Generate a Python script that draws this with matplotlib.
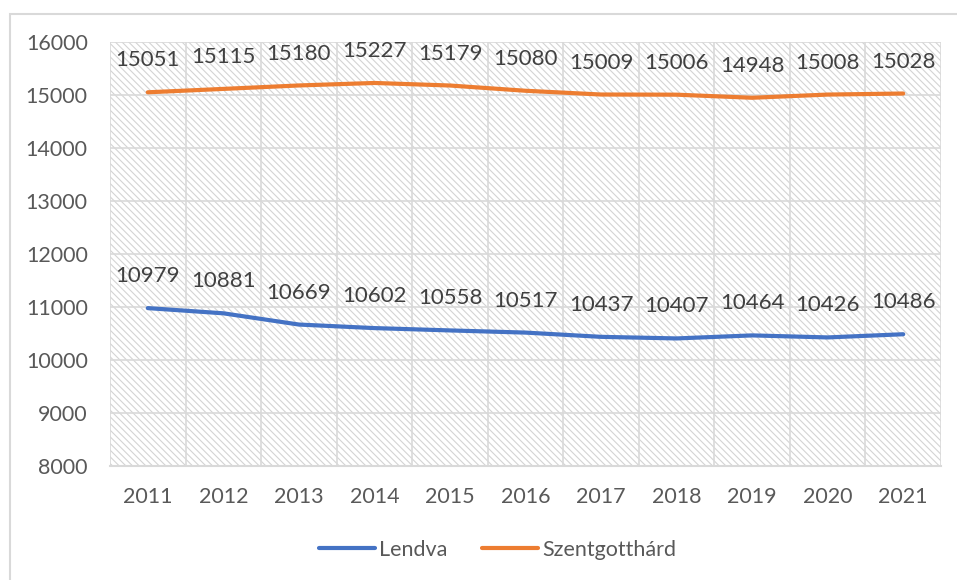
"""Population of Lendva and Szentgotthárd, 2011-2021."""

import matplotlib

matplotlib.use("Agg")
import matplotlib.pyplot as plt
from matplotlib import patches

years = ["2011", "2012", "2013", "2014", "2015", "2016",
         "2017", "2018", "2019", "2020", "2021"]
lendva = [10979, 10881, 10669, 10602, 10558, 10517,
          10437, 10407, 10464, 10426, 10486]
szentgotthard = [15051, 15115, 15180, 15227, 15179, 15080,
                 15009, 15006, 14948, 15008, 15028]

BLUE = "#4472C4"
ORANGE = "#ED7D31"
GRID = "#d9d9d9"
TEXT = "#595959"
LABEL = "#404040"
FS = 15.5

plt.rcParams["font.family"] = ["Lato", "DejaVu Sans"]
plt.rcParams["hatch.color"] = "#d4d4d4"
plt.rcParams["hatch.linewidth"] = 0.8

W, H = 957, 580
fig = plt.figure(figsize=(W / 100, H / 100), dpi=100)

# outer chart border (runs off the right and bottom edges)
fig.add_artist(patches.Rectangle(
    (10 / W, -0.1), 1, 1.1 - 14 / H, transform=fig.transFigure,
    fill=False, edgecolor=GRID, linewidth=1.5))

ax = fig.add_axes([110 / W, (H - 466) / H, 831 / W, 424 / H])
x = list(range(len(years)))

# hatched plot area
ax.add_patch(patches.Rectangle(
    (0, 0), 1, 1, transform=ax.transAxes, facecolor="white",
    hatch="\\\\\\\\\\", edgecolor="#d4d4d4", linewidth=0, zorder=0))

ax.plot(x, lendva, color=BLUE, linewidth=3, label="Lendva",
        solid_capstyle="round", zorder=3)
ax.plot(x, szentgotthard, color=ORANGE, linewidth=3, label="Szentgotthárd",
        solid_capstyle="round", zorder=3)

for series in (lendva, szentgotthard):
    for xi, val in zip(x, series):
        ax.annotate(str(val), (xi, val), textcoords="offset points",
                    xytext=(0, 23), ha="center", va="center",
                    fontsize=FS + 0.5, color=LABEL, zorder=4)

ax.set_xlim(-0.5, len(years) - 0.5)
ax.set_ylim(8000, 16000)
ax.set_yticks(range(8000, 16001, 1000))
ax.set_xticks(x)
ax.set_xticklabels(years)
ax.set_xticks([i - 0.5 for i in range(len(years) + 1)], minor=True)

ax.grid(True, axis="y", which="major", color=GRID, linewidth=1.2, zorder=1)
ax.grid(True, axis="x", which="minor", color=GRID, linewidth=1.2, zorder=1)
ax.set_axisbelow(True)

for side in ("top", "right", "left"):
    ax.spines[side].set_visible(False)
ax.spines["bottom"].set_color(GRID)
ax.spines["bottom"].set_linewidth(1.5)

ax.tick_params(axis="both", which="both", length=0, labelsize=FS,
               labelcolor=TEXT)
ax.tick_params(axis="x", pad=15)
ax.tick_params(axis="y", pad=16)

fig.legend(loc="center", bbox_to_anchor=(0.52, 1 - 550 / H), ncol=2,
           frameon=False, fontsize=FS, labelcolor=TEXT,
           handlelength=2.6, handletextpad=0.2, columnspacing=1.6)

fig.savefig("out.png", dpi=100)
